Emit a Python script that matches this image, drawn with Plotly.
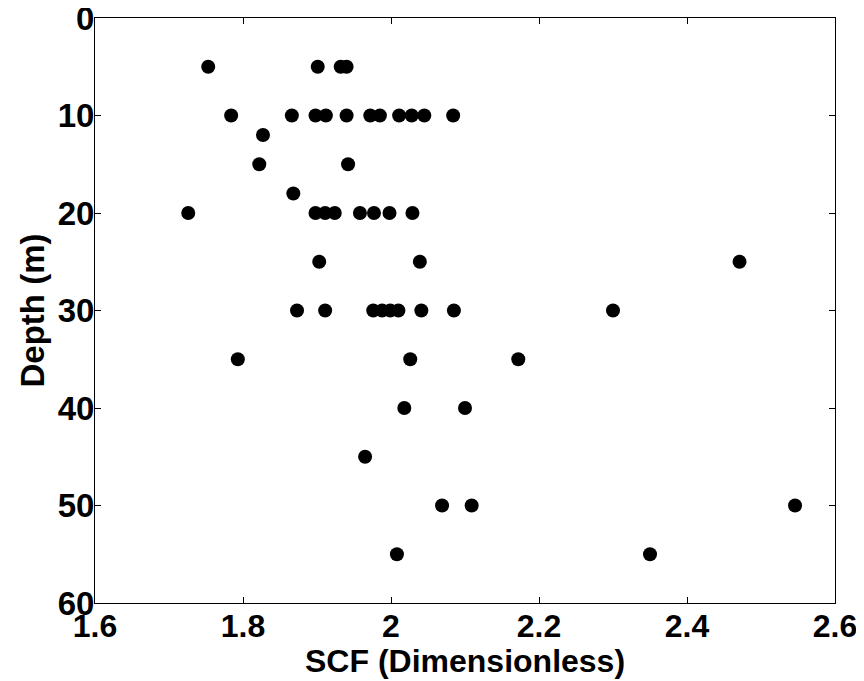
import plotly.graph_objects as go

# SCF values grouped by depth
depth_5 = [1.753, 1.901, 1.932, 1.940]
depth_10 = [1.784, 1.866, 1.898, 1.912, 1.940, 1.972, 1.985, 2.011, 2.028, 2.045, 2.084]
depth_12 = [1.827]
depth_15 = [1.822, 1.942]
depth_18 = [1.868]
depth_20 = [1.726, 1.898, 1.911, 1.924, 1.958, 1.977, 1.998, 2.029]
depth_25 = [1.903, 2.039, 2.471]
depth_30 = [1.873, 1.911, 1.976, 1.988, 1.999, 2.010, 2.041, 2.085, 2.300]
depth_35 = [1.793, 2.026, 2.172]
depth_40 = [2.018, 2.100]
depth_45 = [1.965]
depth_50 = [2.069, 2.109, 2.546]
depth_55 = [2.008, 2.350]

groups = [(5, depth_5), (10, depth_10), (12, depth_12), (15, depth_15), (18, depth_18),
          (20, depth_20), (25, depth_25), (30, depth_30), (35, depth_35), (40, depth_40),
          (45, depth_45), (50, depth_50), (55, depth_55)]

xs, ys = [], []
for d, vals in groups:
    for v in vals:
        xs.append(v)
        ys.append(d)

x_ticks = [1.6, 1.8, 2.0, 2.2, 2.4, 2.6]
x_ticktext = ["1.6", "1.8", "2", "2.2", "2.4", "2.6"]
y_ticks = [0, 10, 20, 30, 40, 50, 60]
x_title = "SCF (Dimensionless)"
y_title = "Depth (m)"

fig = go.Figure(go.Scatter(x=xs, y=ys, mode="markers",
                           marker=dict(color="black", size=14, line=dict(width=0))))

font = "Liberation Sans, Arial, sans-serif"
# page body adds an 8px offset, so the figure is slightly smaller
fig.update_layout(
    width=856, height=673,
    margin=dict(l=87, r=29, t=10, b=78),
    paper_bgcolor="white", plot_bgcolor="white",
    showlegend=False,
    font=dict(family=font, color="black"),
    annotations=[
        dict(text="<b>" + x_title + "</b>", xref="paper", yref="paper",
             x=0.5, y=-0.065, xanchor="center", yanchor="top",
             showarrow=False, font=dict(size=32, family=font, color="black")),
        dict(text="<b>" + y_title + "</b>", xref="paper", yref="paper",
             x=-0.0838, y=0.5, xanchor="center", yanchor="middle", textangle=-90,
             showarrow=False, font=dict(size=33, family=font, color="black")),
    ],
)
fig.update_xaxes(
    range=[1.6, 2.6], tickvals=x_ticks, ticktext=x_ticktext,
    ticks="inside", ticklen=6, tickcolor="black", tickwidth=1,
    showline=True, linecolor="black", linewidth=1, mirror="allticks",
    showgrid=False, zeroline=False, automargin=False,
    ticklabeloverflow="allow", ticklabelstandoff=-5,
    tickfont=dict(size=32, family=font, weight="bold"),
)
fig.update_yaxes(
    range=[60, 0], tickvals=y_ticks,
    ticks="inside", ticklen=6, tickcolor="black", tickwidth=1,
    showline=True, linecolor="black", linewidth=1, mirror="allticks",
    showgrid=False, zeroline=False, automargin=False,
    ticklabeloverflow="allow", ticklabelstandoff=-7,
    tickfont=dict(size=33, family=font, weight="bold"),
)
fig.write_html("out.html")
